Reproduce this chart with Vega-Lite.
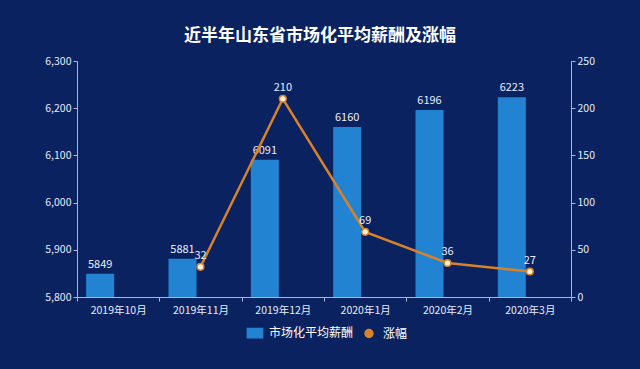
{
  "$schema": "https://vega.github.io/schema/vega-lite/v6.json",
  "width": 494,
  "height": 236,
  "autosize": {"type": "none"},
  "padding": {"left": 77, "top": 61, "right": 69, "bottom": 72},
  "background": "#0a2260",
  "config": {
    "view": {"stroke": null},
    "font": "Noto Sans CJK SC",
    "axis": {"labelFont": "Noto Sans CJK SC", "labelColor": "#e6ecfa", "labelFontSize": 10.5, "domainColor": "#aab7da", "tickColor": "#aab7da", "grid": false, "title": null, "tickSize": 4}
  },
  "title": {"text": "近半年山东省市场化平均薪酬及涨幅", "color": "#ffffff", "fontSize": 17, "fontWeight": "bold", "font": "Noto Sans CJK SC", "anchor": "middle", "dx": -4, "offset": 11},
  "data": {"values": [
    {"month": "2019年10月", "salary": 5849, "growth": null},
    {"month": "2019年11月", "salary": 5881, "growth": 32},
    {"month": "2019年12月", "salary": 6091, "growth": 210},
    {"month": "2020年1月", "salary": 6160, "growth": 69},
    {"month": "2020年2月", "salary": 6196, "growth": 36},
    {"month": "2020年3月", "salary": 6223, "growth": 27}
  ]},
  "encoding": {
    "x": {"field": "month", "type": "nominal", "sort": null, "scale": {"paddingInner": 0, "paddingOuter": 0}, "axis": {"labelAngle": 0, "labelPadding": 4, "tickBand": "extent"}}
  },
  "layer": [
    {
      "mark": {"type": "bar", "width": 28, "xOffset": -18, "clip": true},
      "encoding": {
        "y": {"field": "salary", "type": "quantitative", "scale": {"domain": [5800, 6300], "zero": false, "nice": false}, "axis": {"orient": "left", "values": [5800, 5900, 6000, 6100, 6200, 6300], "format": ",d"}},
        "color": {"datum": "市场化平均薪酬", "type": "nominal", "scale": {"domain": ["市场化平均薪酬", "涨幅"], "range": ["#2383d3", "#d8822a"]},
          "legend": {"orient": "none", "legendX": 172, "legendY": 266, "direction": "horizontal", "title": null, "labelColor": "#ffffff", "labelFontSize": 12, "labelFont": "Noto Sans CJK SC", "symbolSize": 64, "labelOffset": 8, "columnPadding": 8, "symbolOpacity": 1}}
      }
    },
    {
      "mark": {"type": "text", "xOffset": -18, "dy": -9, "color": "#e8eefc", "fontSize": 11, "font": "Noto Sans CJK SC"},
      "encoding": {
        "y": {"field": "salary", "type": "quantitative", "scale": {"domain": [5800, 6300], "zero": false, "nice": false}, "axis": null},
        "text": {"field": "salary", "type": "quantitative", "format": "d"}
      }
    },
    {
      "transform": [{"filter": "datum.growth != null"}],
      "mark": {"type": "line", "strokeWidth": 2.5},
      "encoding": {
        "y": {"field": "growth", "type": "quantitative", "scale": {"domain": [0, 250], "nice": false}, "axis": {"orient": "right", "values": [0, 50, 100, 150, 200, 250]}},
        "color": {"datum": "涨幅", "type": "nominal"}
      }
    },
    {
      "transform": [{"filter": "datum.growth != null"}],
      "mark": {"type": "point", "filled": true, "fill": "#fff3dc", "stroke": "#d8822a", "strokeWidth": 1.5, "size": 45, "opacity": 1},
      "encoding": {
        "y": {"field": "growth", "type": "quantitative", "scale": {"domain": [0, 250], "nice": false}, "axis": null},
        "shape": {"datum": "涨幅", "type": "nominal", "scale": {"domain": ["市场化平均薪酬", "涨幅"], "range": ["M-1.9,-1.15H1.9V1.15H-1.9Z", "circle"]},
          "legend": {"orient": "none", "legendX": 172, "legendY": 266, "direction": "horizontal", "title": null, "labelColor": "#ffffff", "labelFontSize": 12, "labelFont": "Noto Sans CJK SC", "symbolSize": 64, "labelOffset": 8, "columnPadding": 8, "symbolOpacity": 1}}
      }
    },
    {
      "transform": [{"filter": "datum.growth != null"}],
      "mark": {"type": "text", "dy": -11, "color": "#e8eefc", "fontSize": 11, "font": "Noto Sans CJK SC"},
      "encoding": {
        "y": {"field": "growth", "type": "quantitative", "scale": {"domain": [0, 250], "nice": false}, "axis": null},
        "text": {"field": "growth", "type": "quantitative"}
      }
    }
  ],
  "resolve": {"scale": {"y": "independent"}}
}
